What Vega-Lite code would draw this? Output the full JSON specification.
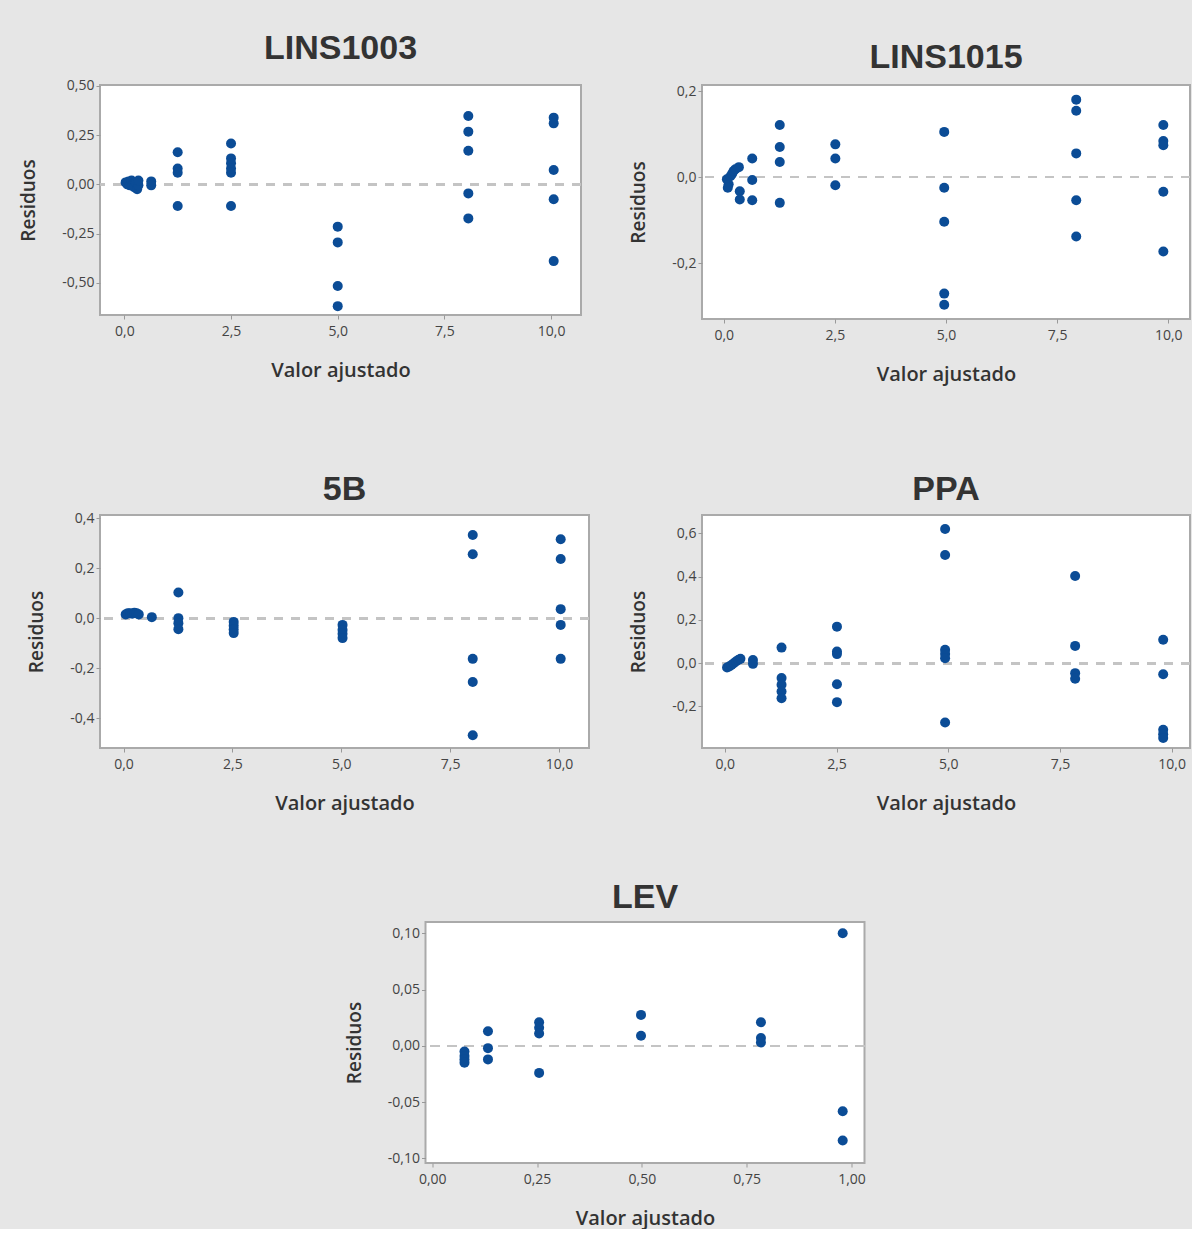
{
  "$schema": "https://vega.github.io/schema/vega-lite/v6.json",
  "background": "#e6e6e6",
  "padding": {"left": 18, "top": 30, "right": 0, "bottom": 0},
  "datasets": {
    "d1": [
      {"x": 0.03, "y": 0.01}, {"x": 0.07, "y": 0.0}, {"x": 0.1, "y": 0.015}, {"x": 0.13, "y": -0.005},
      {"x": 0.17, "y": 0.02}, {"x": 0.2, "y": 0.0}, {"x": 0.23, "y": -0.015}, {"x": 0.27, "y": 0.01},
      {"x": 0.3, "y": -0.025}, {"x": 0.33, "y": -0.005}, {"x": 0.33, "y": 0.02},
      {"x": 0.63, "y": 0.015}, {"x": 0.63, "y": -0.005},
      {"x": 1.25, "y": 0.163}, {"x": 1.25, "y": 0.081}, {"x": 1.25, "y": 0.059}, {"x": 1.25, "y": -0.11},
      {"x": 2.5, "y": 0.208}, {"x": 2.5, "y": 0.132}, {"x": 2.5, "y": 0.107}, {"x": 2.5, "y": 0.081}, {"x": 2.5, "y": 0.059}, {"x": 2.5, "y": -0.11},
      {"x": 5.0, "y": -0.215}, {"x": 5.0, "y": -0.295}, {"x": 5.0, "y": -0.517}, {"x": 5.0, "y": -0.619},
      {"x": 8.06, "y": 0.347}, {"x": 8.06, "y": 0.268}, {"x": 8.06, "y": 0.171}, {"x": 8.06, "y": -0.046}, {"x": 8.06, "y": -0.173},
      {"x": 10.06, "y": 0.339}, {"x": 10.06, "y": 0.31}, {"x": 10.06, "y": 0.073}, {"x": 10.06, "y": -0.076}, {"x": 10.06, "y": -0.39}
    ],
    "d2": [
      {"x": 0.07, "y": -0.005}, {"x": 0.11, "y": -0.017}, {"x": 0.15, "y": 0.002}, {"x": 0.19, "y": 0.008},
      {"x": 0.22, "y": 0.014}, {"x": 0.26, "y": 0.018}, {"x": 0.34, "y": 0.023}, {"x": 0.36, "y": -0.033},
      {"x": 0.36, "y": -0.052}, {"x": 0.09, "y": -0.025},
      {"x": 0.64, "y": 0.043}, {"x": 0.64, "y": -0.007}, {"x": 0.64, "y": -0.054},
      {"x": 1.26, "y": 0.121}, {"x": 1.26, "y": 0.07}, {"x": 1.26, "y": 0.035}, {"x": 1.26, "y": -0.06},
      {"x": 2.51, "y": 0.076}, {"x": 2.51, "y": 0.043}, {"x": 2.51, "y": -0.019},
      {"x": 4.96, "y": 0.105}, {"x": 4.96, "y": -0.025}, {"x": 4.96, "y": -0.104}, {"x": 4.96, "y": -0.271}, {"x": 4.96, "y": -0.297},
      {"x": 7.93, "y": 0.18}, {"x": 7.93, "y": 0.154}, {"x": 7.93, "y": 0.055}, {"x": 7.93, "y": -0.054}, {"x": 7.93, "y": -0.138},
      {"x": 9.89, "y": 0.121}, {"x": 9.89, "y": 0.084}, {"x": 9.89, "y": 0.074}, {"x": 9.89, "y": -0.034}, {"x": 9.89, "y": -0.173}
    ],
    "d3": [
      {"x": 0.05, "y": 0.015}, {"x": 0.1, "y": 0.02}, {"x": 0.15, "y": 0.02}, {"x": 0.2, "y": 0.018},
      {"x": 0.25, "y": 0.022}, {"x": 0.3, "y": 0.02}, {"x": 0.35, "y": 0.015},
      {"x": 0.65, "y": 0.004},
      {"x": 1.26, "y": 0.103}, {"x": 1.26, "y": 0.0}, {"x": 1.26, "y": -0.02}, {"x": 1.26, "y": -0.044},
      {"x": 2.53, "y": -0.015}, {"x": 2.53, "y": -0.03}, {"x": 2.53, "y": -0.045}, {"x": 2.53, "y": -0.06},
      {"x": 5.03, "y": -0.027}, {"x": 5.03, "y": -0.047}, {"x": 5.03, "y": -0.063}, {"x": 5.03, "y": -0.08},
      {"x": 8.02, "y": 0.333}, {"x": 8.02, "y": 0.256}, {"x": 8.02, "y": -0.163}, {"x": 8.02, "y": -0.256}, {"x": 8.02, "y": -0.469},
      {"x": 10.04, "y": 0.316}, {"x": 10.04, "y": 0.237}, {"x": 10.04, "y": 0.036}, {"x": 10.04, "y": -0.027}, {"x": 10.04, "y": -0.163}
    ],
    "d4": [
      {"x": 0.05, "y": -0.02}, {"x": 0.1, "y": -0.015}, {"x": 0.15, "y": -0.008}, {"x": 0.2, "y": 0.0},
      {"x": 0.25, "y": 0.008}, {"x": 0.3, "y": 0.015}, {"x": 0.35, "y": 0.02},
      {"x": 0.63, "y": 0.015}, {"x": 0.63, "y": -0.003},
      {"x": 1.27, "y": 0.072}, {"x": 1.27, "y": -0.069}, {"x": 1.27, "y": -0.1}, {"x": 1.27, "y": -0.131}, {"x": 1.27, "y": -0.162},
      {"x": 2.51, "y": 0.169}, {"x": 2.51, "y": 0.054}, {"x": 2.51, "y": 0.042}, {"x": 2.51, "y": -0.097}, {"x": 2.51, "y": -0.18},
      {"x": 4.93, "y": 0.62}, {"x": 4.93, "y": 0.5}, {"x": 4.93, "y": 0.062}, {"x": 4.93, "y": 0.043}, {"x": 4.93, "y": 0.023}, {"x": 4.93, "y": -0.274},
      {"x": 7.84, "y": 0.403}, {"x": 7.84, "y": 0.08}, {"x": 7.84, "y": -0.046}, {"x": 7.84, "y": -0.072},
      {"x": 9.81, "y": 0.108}, {"x": 9.81, "y": -0.051}, {"x": 9.81, "y": -0.308}, {"x": 9.81, "y": -0.328}, {"x": 9.81, "y": -0.346}
    ],
    "d5": [
      {"x": 0.077, "y": -0.005}, {"x": 0.077, "y": -0.009}, {"x": 0.077, "y": -0.012}, {"x": 0.077, "y": -0.015},
      {"x": 0.133, "y": 0.013}, {"x": 0.133, "y": -0.002}, {"x": 0.133, "y": -0.012},
      {"x": 0.255, "y": 0.021}, {"x": 0.255, "y": 0.016}, {"x": 0.255, "y": 0.011}, {"x": 0.255, "y": -0.024},
      {"x": 0.498, "y": 0.0275}, {"x": 0.498, "y": 0.009},
      {"x": 0.784, "y": 0.021}, {"x": 0.784, "y": 0.007}, {"x": 0.784, "y": 0.003},
      {"x": 0.979, "y": 0.1}, {"x": 0.979, "y": -0.058}, {"x": 0.979, "y": -0.084}
    ]
  },
  "vconcat": [
    {
      "concat": [
        {
          "width": 481, "height": 230,
          "title": {"text": "LINS1003", "offset": 13},
          "data": {"name": "d1"},
          "layer": [
            {"mark": {"type": "rule", "color": "#c4c4c4", "strokeWidth": 2, "strokeDash": [9, 8]},
             "encoding": {"y": {"datum": 0, "type": "quantitative"}}},
            {"mark": {"type": "circle", "size": 100, "color": "#0b4c96", "opacity": 1},
             "encoding": {
               "x": {"field": "x", "type": "quantitative", "scale": {"domain": [-0.57, 10.7], "nice": false, "zero": false},
                     "axis": {"title": "Valor ajustado", "values": [0, 2.5, 5, 7.5, 10], "format": ".1f"}},
               "y": {"field": "y", "type": "quantitative", "scale": {"domain": [-0.664, 0.505], "nice": false, "zero": false},
                     "axis": {"title": "Residuos", "values": [-0.5, -0.25, 0, 0.25, 0.5], "format": ".2f"}}
             }}
          ]
        },
        {
          "width": 488, "height": 234,
          "title": {"text": "LINS1015", "offset": 9},
          "data": {"name": "d2"},
          "layer": [
            {"mark": {"type": "rule", "color": "#c4c4c4", "strokeWidth": 2, "strokeDash": [9, 8]},
             "encoding": {"y": {"datum": 0, "type": "quantitative"}}},
            {"mark": {"type": "circle", "size": 100, "color": "#0b4c96", "opacity": 1},
             "encoding": {
               "x": {"field": "x", "type": "quantitative", "scale": {"domain": [-0.49, 10.49], "nice": false, "zero": false},
                     "axis": {"title": "Valor ajustado", "values": [0, 2.5, 5, 7.5, 10], "format": ".1f"}},
               "y": {"field": "y", "type": "quantitative", "scale": {"domain": [-0.33, 0.214], "nice": false, "zero": false},
                     "axis": {"title": "Residuos", "values": [-0.2, 0, 0.2], "format": ".1f"}}
             }}
          ]
        },
        {
          "width": 489, "height": 233,
          "title": {"text": "5B", "offset": 4},
          "data": {"name": "d3"},
          "layer": [
            {"mark": {"type": "rule", "color": "#c4c4c4", "strokeWidth": 2, "strokeDash": [9, 8]},
             "encoding": {"y": {"datum": 0, "type": "quantitative"}}},
            {"mark": {"type": "circle", "size": 100, "color": "#0b4c96", "opacity": 1},
             "encoding": {
               "x": {"field": "x", "type": "quantitative", "scale": {"domain": [-0.54, 10.69], "nice": false, "zero": false},
                     "axis": {"title": "Valor ajustado", "values": [0, 2.5, 5, 7.5, 10], "format": ".1f"}},
               "y": {"field": "y", "type": "quantitative", "scale": {"domain": [-0.52, 0.413], "nice": false, "zero": false},
                     "axis": {"title": "Residuos", "values": [-0.4, -0.2, 0, 0.2, 0.4], "format": ".1f"}}
             }}
          ]
        },
        {
          "width": 488, "height": 233,
          "title": {"text": "PPA", "offset": 8},
          "data": {"name": "d4"},
          "layer": [
            {"mark": {"type": "rule", "color": "#c4c4c4", "strokeWidth": 2, "strokeDash": [9, 8]},
             "encoding": {"y": {"datum": 0, "type": "quantitative"}}},
            {"mark": {"type": "circle", "size": 100, "color": "#0b4c96", "opacity": 1},
             "encoding": {
               "x": {"field": "x", "type": "quantitative", "scale": {"domain": [-0.51, 10.41], "nice": false, "zero": false},
                     "axis": {"title": "Valor ajustado", "values": [0, 2.5, 5, 7.5, 10], "format": ".1f"}},
               "y": {"field": "y", "type": "quantitative", "scale": {"domain": [-0.392, 0.685], "nice": false, "zero": false},
                     "axis": {"title": "Residuos", "values": [-0.2, 0, 0.2, 0.4, 0.6], "format": ".1f"}}
             }}
          ]
        }
      ],
      "columns": 2,
      "spacing": {"row": 196, "column": 113},
      "bounds": "flush"
    },
    {
      "width": 439, "height": 241,
      "title": {"text": "LEV", "offset": 7},
      "data": {"name": "d5"},
      "layer": [
        {"mark": {"type": "rule", "color": "#c4c4c4", "strokeWidth": 2, "strokeDash": [9, 8]},
         "encoding": {"y": {"datum": 0, "type": "quantitative"}}},
        {"mark": {"type": "circle", "size": 100, "color": "#0b4c96", "opacity": 1},
         "encoding": {
           "x": {"field": "x", "type": "quantitative", "scale": {"domain": [-0.016, 1.031], "nice": false, "zero": false},
                 "axis": {"title": "Valor ajustado", "values": [0, 0.25, 0.5, 0.75, 1], "format": ".2f"}},
           "y": {"field": "y", "type": "quantitative", "scale": {"domain": [-0.104, 0.11], "nice": false, "zero": false},
                 "axis": {"title": "Residuos", "values": [-0.1, -0.05, 0, 0.05, 0.1], "format": ".2f"}}
         }}
      ]
    }
  ],
  "spacing": 66,
  "center": true,
  "config": {
    "locale": {"number": {"decimal": ",", "thousands": ".", "grouping": [3], "currency": ["", " €"], "minus": "-"}},
    "view": {"stroke": "#aaaaaa", "strokeWidth": 2, "fill": "white"},
    "title": {"font": "Liberation Sans", "fontSize": 34, "fontWeight": "bold", "color": "#333333", "anchor": "middle", "frame": "group"},
    "axis": {
      "grid": false, "domain": false,
      "tickColor": "#999999", "tickSize": 4,
      "labelFont": "Open Sans", "labelFontSize": 14, "labelColor": "#444444",
      "titleFont": "Open Sans", "titleFontWeight": 600, "titleColor": "#333333", "titleFontSize": 20
    },
    "axisX": {"labelPadding": 5, "titlePadding": 22},
    "axisY": {"labelPadding": 2, "titlePadding": 23, "titleFontSize": 19}
  }
}
